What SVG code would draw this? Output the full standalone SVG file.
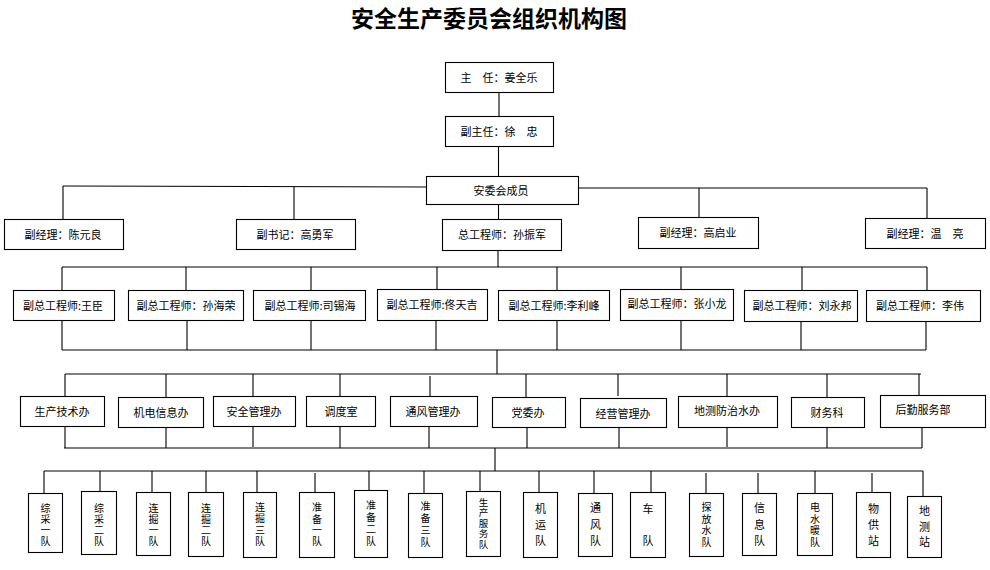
<svg xmlns="http://www.w3.org/2000/svg" width="990" height="570" viewBox="0 0 990 570">
<style>
.box{fill:#fff;stroke:#000;stroke-width:1.1}
.t{font-family:"Noto Sans CJK SC","Noto Sans",sans-serif;font-size:11px;fill:#000;text-anchor:middle;dominant-baseline:central}
.v{font-size:10px}
.v5{font-size:9.5px}
.title{font-family:"Noto Sans CJK SC","Noto Sans",sans-serif;font-size:23px;font-weight:bold;fill:#000;text-anchor:middle}
.c line{stroke:#000;stroke-width:1.1}
</style>
<rect width="990" height="570" fill="#fff"/>
<text class="title" x="489" y="27">安全生产委员会组织机构图</text>

<g class="c" id="connectors">
<line x1="499" y1="92" x2="499" y2="117"/>
<line x1="498.5" y1="146" x2="498.5" y2="177"/>
<line x1="63" y1="186" x2="427" y2="187"/>
<line x1="578" y1="188" x2="927" y2="188"/>
<line x1="63" y1="186" x2="63" y2="219"/>
<line x1="294" y1="187" x2="294" y2="219"/>
<line x1="699" y1="188" x2="699" y2="217"/>
<line x1="927" y1="188" x2="927" y2="218"/>
<line x1="498.5" y1="204" x2="498.5" y2="219"/>
<line x1="498" y1="251" x2="498" y2="267"/>
<line x1="62" y1="267" x2="927" y2="267"/>
<line x1="62" y1="267" x2="62" y2="290"/>
<line x1="186" y1="267" x2="186" y2="290"/>
<line x1="311" y1="267" x2="311" y2="290"/>
<line x1="437" y1="267" x2="437" y2="289"/>
<line x1="557" y1="267" x2="557" y2="290"/>
<line x1="681" y1="267" x2="681" y2="289"/>
<line x1="802" y1="267" x2="802" y2="290"/>
<line x1="927" y1="267" x2="927" y2="290"/>
<line x1="62" y1="321" x2="62" y2="350"/>
<line x1="187" y1="320" x2="187" y2="350"/>
<line x1="311" y1="320" x2="311" y2="350"/>
<line x1="436" y1="320" x2="436" y2="350"/>
<line x1="557" y1="320" x2="557" y2="350"/>
<line x1="681" y1="320" x2="681" y2="350"/>
<line x1="801" y1="321" x2="801" y2="350"/>
<line x1="926" y1="321" x2="926" y2="350"/>
<line x1="62" y1="350" x2="926" y2="350"/>
<line x1="497" y1="350" x2="497" y2="374"/>
<line x1="65" y1="374" x2="921" y2="374"/>
<line x1="65" y1="374" x2="65" y2="397"/>
<line x1="166" y1="374" x2="166" y2="397"/>
<line x1="253" y1="374" x2="253" y2="397"/>
<line x1="340" y1="374" x2="340" y2="397"/>
<line x1="430" y1="376" x2="430" y2="397"/>
<line x1="526" y1="374" x2="526" y2="397"/>
<line x1="618" y1="374" x2="618" y2="396"/>
<line x1="727" y1="374" x2="727" y2="396"/>
<line x1="827" y1="374" x2="827" y2="397"/>
<line x1="919" y1="374" x2="919" y2="395"/>
<line x1="65" y1="426" x2="65" y2="448"/>
<line x1="166" y1="427" x2="166" y2="448"/>
<line x1="253" y1="425" x2="253" y2="447"/>
<line x1="340" y1="426" x2="340" y2="448"/>
<line x1="429" y1="426" x2="429" y2="448"/>
<line x1="527" y1="427" x2="527" y2="448"/>
<line x1="619" y1="427" x2="619" y2="448"/>
<line x1="727" y1="427" x2="727" y2="447"/>
<line x1="827" y1="425" x2="827" y2="448"/>
<line x1="922" y1="427" x2="922" y2="448"/>
<line x1="64" y1="448" x2="922" y2="448"/>
<line x1="495" y1="448" x2="495" y2="471"/>
<line x1="44" y1="471" x2="923" y2="471"/>
<line x1="44" y1="471" x2="44" y2="493"/>
<line x1="100" y1="471" x2="100" y2="491"/>
<line x1="152" y1="471" x2="152" y2="492"/>
<line x1="206" y1="471" x2="206" y2="492"/>
<line x1="257" y1="471" x2="257" y2="492"/>
<line x1="315" y1="473" x2="315" y2="492"/>
<line x1="369" y1="471" x2="369" y2="490"/>
<line x1="424" y1="471" x2="424" y2="493"/>
<line x1="480" y1="471" x2="480" y2="491"/>
<line x1="539" y1="471" x2="539" y2="492"/>
<line x1="594" y1="471" x2="594" y2="493"/>
<line x1="651" y1="471" x2="651" y2="492"/>
<line x1="706" y1="473" x2="706" y2="493"/>
<line x1="758" y1="473" x2="758" y2="493"/>
<line x1="815" y1="471" x2="815" y2="493"/>
<line x1="872" y1="473" x2="872" y2="492"/>
<line x1="923" y1="471" x2="923" y2="496"/>
</g>

<g id="n-zhuren"><rect class="box" x="445.5" y="62.5" width="108" height="30"/><text class="t" x="499" y="77">主　任：姜全乐</text></g>
<g id="n-fuzhuren"><rect class="box" x="445.5" y="116.5" width="108" height="30"/><text class="t" x="499" y="131">副主任：徐　忠</text></g>
<g id="n-anwei"><rect class="box" x="426.5" y="176.5" width="152" height="28"/><text class="t" x="501" y="190">安委会成员</text></g>

<g id="n-chen"><rect class="box" x="4.5" y="219.5" width="119" height="30"/><text class="t" x="63" y="234">副经理：陈元良</text></g>
<g id="n-gaoyj"><rect class="box" x="236.5" y="219.5" width="119" height="30"/><text class="t" x="295" y="234">副书记：高勇军</text></g>
<g id="n-sunzj"><rect class="box" x="442.5" y="219.5" width="119" height="31"/><text class="t" x="502" y="234">总工程师：孙振军</text></g>
<g id="n-gaoqy"><rect class="box" x="638.5" y="217.5" width="120" height="31"/><text class="t" x="698" y="232">副经理：高启业</text></g>
<g id="n-wen"><rect class="box" x="865.5" y="218.5" width="120" height="30"/><text class="t" x="925" y="233">副经理：温　亮</text></g>

<g id="n-wangc"><rect class="box" x="13.5" y="290.5" width="101" height="30"/><text class="t" x="63" y="305">副总工程师:王臣</text></g>
<g id="n-sunhr"><rect class="box" x="128.5" y="290.5" width="115" height="30"/><text class="t" x="186" y="305">副总工程师：孙海荣</text></g>
<g id="n-sixh"><rect class="box" x="253.5" y="290.5" width="112" height="30"/><text class="t" x="310" y="305">副总工程师:司锡海</text></g>
<g id="n-tongtj"><rect class="box" x="377.5" y="289.5" width="110" height="31"/><text class="t" x="432" y="304">副总工程师:佟天吉</text></g>
<g id="n-lilf"><rect class="box" x="498.5" y="290.5" width="111" height="30"/><text class="t" x="554" y="305">副总工程师:李利峰</text></g>
<g id="n-zhangxl"><rect class="box" x="620.5" y="289.5" width="113" height="31"/><text class="t" x="677" y="303">副总工程师：张小龙</text></g>
<g id="n-liuyb"><rect class="box" x="744.5" y="290.5" width="113" height="31"/><text class="t" x="802" y="305">副总工程师：刘永邦</text></g>
<g id="n-liw"><rect class="box" x="866.5" y="290.5" width="114" height="31"/><text class="t" x="920" y="305">副总工程师：李伟</text></g>

<g id="n-scjs"><rect class="box" x="20.5" y="396.5" width="84" height="30"/><text class="t" x="62" y="411">生产技术办</text></g>
<g id="n-jdxx"><rect class="box" x="118.5" y="397.5" width="85" height="30"/><text class="t" x="161" y="412">机电信息办</text></g>
<g id="n-aqgl"><rect class="box" x="213.5" y="396.5" width="82" height="30"/><text class="t" x="254" y="411">安全管理办</text></g>
<g id="n-ddb"><rect class="box" x="306.5" y="396.5" width="69" height="30"/><text class="t" x="341" y="411">调度室</text></g>
<g id="n-tfgl"><rect class="box" x="390.5" y="396.5" width="87" height="30"/><text class="t" x="433" y="411">通风管理办</text></g>
<g id="n-dwb"><rect class="box" x="492.5" y="397.5" width="73" height="30"/><text class="t" x="528" y="412">党委办</text></g>
<g id="n-jygl"><rect class="box" x="580.5" y="398.5" width="86" height="29"/><text class="t" x="623" y="413">经营管理办</text></g>
<g id="n-dcfz"><rect class="box" x="678.5" y="396.5" width="99" height="31"/><text class="t" x="727" y="410">地测防治水办</text></g>
<g id="n-cwk"><rect class="box" x="791.5" y="397.5" width="73" height="30"/><text class="t" x="827" y="412">财务科</text></g>
<g id="n-hqfw"><rect class="box" x="880.5" y="395.5" width="105" height="32"/><text class="t" x="923" y="409">后勤服务部</text></g>

<g id="n-zc1"><rect class="box" x="28.5" y="493.5" width="34" height="59"/><text class="t v"><tspan x="45.5" y="506.5">综</tspan><tspan x="45.5" y="518">采</tspan><tspan x="45.5" y="529">一</tspan><tspan x="45.5" y="540">队</tspan></text></g>
<g id="n-zc2"><rect class="box" x="81.5" y="491.5" width="35" height="63"/><text class="t v"><tspan x="99" y="507">综</tspan><tspan x="99" y="518">采</tspan><tspan x="99" y="529">二</tspan><tspan x="99" y="540">队</tspan></text></g>
<g id="n-lj1"><rect class="box" x="136.5" y="492.5" width="34" height="63"/><text class="t v"><tspan x="153.5" y="506.5">连</tspan><tspan x="153.5" y="518">掘</tspan><tspan x="153.5" y="529">一</tspan><tspan x="153.5" y="540">队</tspan></text></g>
<g id="n-lj2"><rect class="box" x="188.5" y="492.5" width="35" height="64"/><text class="t v"><tspan x="206" y="506.5">连</tspan><tspan x="206" y="518">掘</tspan><tspan x="206" y="529">二</tspan><tspan x="206" y="540">队</tspan></text></g>
<g id="n-lj3"><rect class="box" x="243.5" y="492.5" width="33" height="65"/><text class="t v"><tspan x="260" y="505.5">连</tspan><tspan x="260" y="517">掘</tspan><tspan x="260" y="528.5">三</tspan><tspan x="260" y="540">队</tspan></text></g>
<g id="n-zb1"><rect class="box" x="299.5" y="492.5" width="35" height="65"/><text class="t v"><tspan x="317" y="506">准</tspan><tspan x="317" y="517.5">备</tspan><tspan x="317" y="529">一</tspan><tspan x="317" y="540">队</tspan></text></g>
<g id="n-zb2"><rect class="box" x="354.5" y="490.5" width="33" height="67"/><text class="t v"><tspan x="371" y="504">准</tspan><tspan x="371" y="516">备</tspan><tspan x="371" y="528">二</tspan><tspan x="371" y="540">队</tspan></text></g>
<g id="n-zb3"><rect class="box" x="408.5" y="493.5" width="34" height="64"/><text class="t v"><tspan x="425.5" y="505">准</tspan><tspan x="425.5" y="517">备</tspan><tspan x="425.5" y="529">三</tspan><tspan x="425.5" y="541">队</tspan></text></g>
<g id="n-scfw"><rect class="box" x="466.5" y="491.5" width="34" height="65"/><text class="t v5"><tspan x="483.5" y="501.5">生</tspan><tspan x="483.5" y="512">产</tspan><tspan x="483.5" y="522.5">服</tspan><tspan x="483.5" y="533">务</tspan><tspan x="483.5" y="543.5">队</tspan></text></g>
<g id="n-jy"><rect class="box" x="523.5" y="492.5" width="34" height="65"/><text class="t"><tspan x="540.5" y="507.5">机</tspan><tspan x="540.5" y="523.5">运</tspan><tspan x="540.5" y="540">队</tspan></text></g>
<g id="n-tf"><rect class="box" x="578.5" y="493.5" width="34" height="63"/><text class="t"><tspan x="595.5" y="507">通</tspan><tspan x="595.5" y="524">风</tspan><tspan x="595.5" y="540">队</tspan></text></g>
<g id="n-che"><rect class="box" x="630.5" y="492.5" width="35" height="65"/><text class="t"><tspan x="648" y="507.5">车</tspan><tspan x="648" y="540">队</tspan></text></g>
<g id="n-tfs"><rect class="box" x="689.5" y="493.5" width="34" height="63"/><text class="t v"><tspan x="706.5" y="506">探</tspan><tspan x="706.5" y="517.5">放</tspan><tspan x="706.5" y="529">水</tspan><tspan x="706.5" y="540.5">队</tspan></text></g>
<g id="n-xx"><rect class="box" x="742.5" y="493.5" width="34" height="62"/><text class="t"><tspan x="759.5" y="507">信</tspan><tspan x="759.5" y="524">息</tspan><tspan x="759.5" y="540">队</tspan></text></g>
<g id="n-dsn"><rect class="box" x="797.5" y="493.5" width="35" height="62"/><text class="t v"><tspan x="815" y="506">电</tspan><tspan x="815" y="517.5">水</tspan><tspan x="815" y="529">暖</tspan><tspan x="815" y="540.5">队</tspan></text></g>
<g id="n-wgz"><rect class="box" x="856.5" y="492.5" width="34" height="65"/><text class="t"><tspan x="873.5" y="508">物</tspan><tspan x="873.5" y="524">供</tspan><tspan x="873.5" y="540">站</tspan></text></g>
<g id="n-dcz"><rect class="box" x="907.5" y="496.5" width="34" height="61"/><text class="t"><tspan x="924.5" y="510">地</tspan><tspan x="924.5" y="526">测</tspan><tspan x="924.5" y="541">站</tspan></text></g>
</svg>
